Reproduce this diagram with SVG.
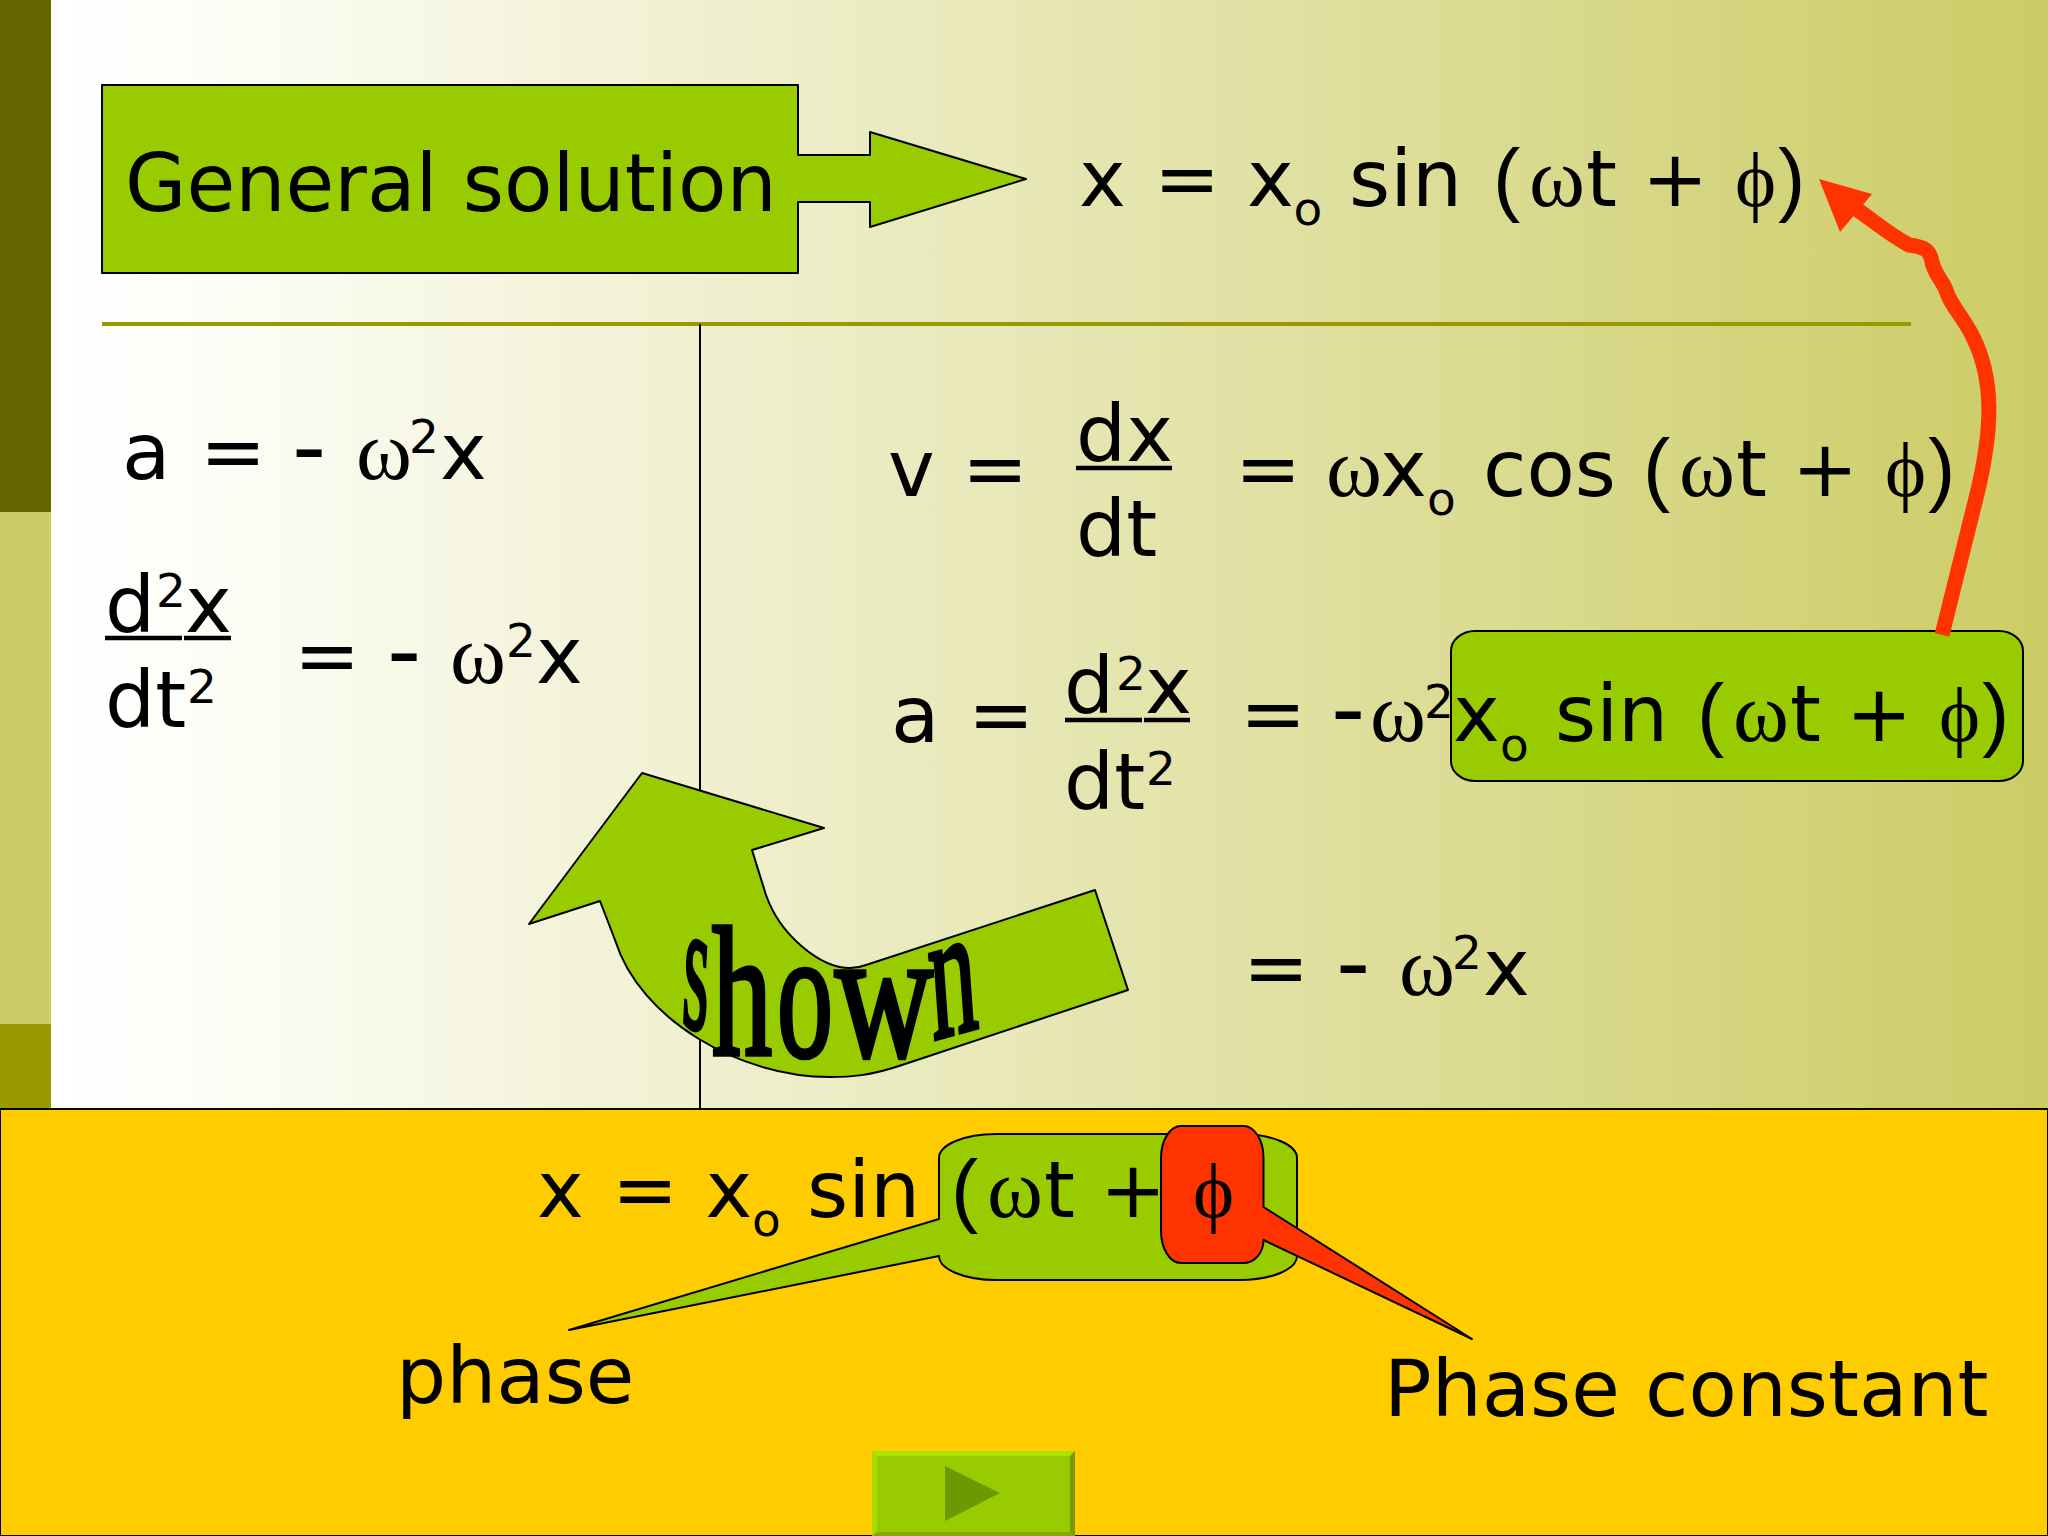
<svg xmlns="http://www.w3.org/2000/svg" width="2048" height="1536" viewBox="0 0 2048 1536">
<style>
.t{font-family:"DejaVu Sans",sans-serif;font-size:79px;fill:#000;white-space:pre}
.w{font-family:"Liberation Serif",serif;font-size:85px}
.f{font-family:"Liberation Serif",serif;font-size:78px}
.p{font-family:"Liberation Sans",sans-serif;font-size:82px}
.h{font-size:95px}
.s{font-size:47px}
.k{stroke:#000;stroke-width:2;stroke-linejoin:round}
.gr{fill:#99CC00}
.rd{fill:#FF3300}
.ul{stroke:#000;stroke-width:4.5}
</style>
<defs><linearGradient id="bg" gradientUnits="userSpaceOnUse" x1="52" y1="0" x2="2048" y2="0"><stop offset="0" stop-color="#fff"/><stop offset="0.06" stop-color="#FEFEFA"/><stop offset="1" stop-color="#CCCC66"/></linearGradient></defs>
<rect id="background" width="2048" height="1536" fill="url(#bg)"/>
<g id="sidebar">
<rect x="0" y="0" width="51" height="512" fill="#666600"/>
<rect x="0" y="512" width="51" height="512" fill="#CCCC66"/>
<rect x="0" y="1024" width="51" height="90" fill="#999900"/>
</g>
<g id="connectors">
<line x1="102" y1="324" x2="1911" y2="324" stroke="#999900" stroke-width="4"/>
<line x1="700" y1="324" x2="700" y2="1110" stroke="#000" stroke-width="2"/>
</g>
<g id="general-solution">
<path class="gr k" d="M102,85H798V155H870V132L1026,179L870,227V202H798V273H102Z"/>
<text class="t" x="125" y="211" style="font-size:79.3px">General solution</text>
</g>
<g id="formula-x"><text class="t" y="206"><tspan x="1079">x</tspan> <tspan x="1154">=</tspan> <tspan x="1247">x</tspan><tspan class="s" x="1293.5" y="225">o</tspan> <tspan x="1349" y="206">sin</tspan> <tspan class="p" x="1493">(</tspan><tspan class="w" x="1529">ω</tspan><tspan x="1586">t</tspan> <tspan x="1642">+</tspan> <tspan class="f" x="1735">ϕ</tspan><tspan class="p" x="1778">)</tspan></text></g>
<g id="formula-a"><text class="t" y="479"><tspan x="122">a</tspan> <tspan x="200">=</tspan> <tspan class="h" x="292">-</tspan> <tspan class="w" x="356">ω</tspan><tspan class="s" x="409" y="453">2</tspan><tspan x="440" y="479">x</tspan></text></g>
<g id="formula-d2x">
<text class="t" x="105" y="632">d<tspan class="s" x="156" y="607">2</tspan><tspan x="185" y="632">x</tspan></text>
<line class="ul" x1="105" y1="638" x2="182" y2="638"/><line class="ul" x1="184" y1="638" x2="231" y2="638"/>
<text class="t" x="105" y="727">dt<tspan class="s" x="187" y="703">2</tspan></text>
<text class="t" y="683"><tspan x="294">=</tspan> <tspan class="h" x="387">-</tspan> <tspan class="w" x="450">ω</tspan><tspan class="s" x="506" y="657">2</tspan><tspan x="536" y="683">x</tspan></text>
</g>
<g id="formula-v">
<text class="t" y="496"><tspan x="888">v</tspan> <tspan x="962">=</tspan></text>
<text class="t" x="1076" y="461">dx</text>
<line class="ul" x1="1076" y1="468" x2="1172" y2="468"/>
<text class="t" x="1076" y="556">dt</text>
<text class="t" y="496"><tspan x="1235">=</tspan> <tspan class="w" x="1326">ω</tspan><tspan x="1380">x</tspan><tspan class="s" x="1427" y="515">o</tspan> <tspan x="1483" y="496">cos</tspan> <tspan class="p" x="1643">(</tspan><tspan class="w" x="1679">ω</tspan><tspan x="1736">t</tspan> <tspan x="1792">+</tspan> <tspan class="f" x="1885">ϕ</tspan><tspan class="p" x="1928">)</tspan></text>
</g>
<g id="sin-box"><rect class="gr k" x="1451" y="631" width="572" height="150" rx="24" ry="20"/></g>
<g id="formula-a2">
<text class="t" y="742"><tspan x="891">a</tspan> <tspan x="968">=</tspan></text>
<text class="t" x="1064" y="713">d<tspan class="s" x="1116" y="690">2</tspan><tspan x="1145" y="713">x</tspan></text>
<line class="ul" x1="1065" y1="720" x2="1142" y2="720"/><line class="ul" x1="1144" y1="720" x2="1190" y2="720"/>
<text class="t" x="1064" y="809">dt<tspan class="s" x="1146" y="785">2</tspan></text>
<text class="t" y="741"><tspan x="1240">=</tspan> <tspan class="h" x="1331">-</tspan><tspan class="w" x="1370">ω</tspan><tspan class="s" x="1424" y="718">2</tspan><tspan x="1453" y="741">x</tspan><tspan class="s" x="1500" y="761">o</tspan> <tspan x="1555" y="741">sin</tspan> <tspan class="p" x="1697">(</tspan><tspan class="w" x="1733">ω</tspan><tspan x="1790">t</tspan> <tspan x="1846">+</tspan> <tspan class="f" x="1939">ϕ</tspan><tspan class="p" x="1982">)</tspan></text>
</g>
<g id="formula-a3"><text class="t" y="995"><tspan x="1243">=</tspan> <tspan class="h" x="1336">-</tspan> <tspan class="w" x="1399">ω</tspan><tspan class="s" x="1452" y="969">2</tspan><tspan x="1483" y="995">x</tspan></text></g>
<g id="red-arrow">
<path d="M1942,635L1978,490C1992,430 1995,380 1972,335C1962,315 1950,305 1946,290C1942,280 1935,275 1932,262C1930,250 1925,247 1909,245C1890,235 1875,222 1855,208" fill="none" stroke="#FF3300" stroke-width="15"/>
<polygon class="rd" points="1819,179 1872,194 1840,232"/>
</g>
<g id="shown-arrow">
<path class="gr k" d="M642,773L824,828L752,850L766,895C780,935 820,968 850,968Q858,968 866,965L1095,890L1128,990L902,1065C870,1076 850,1077 830,1077C740,1077 640,1020 615,940L600,901L529,924Z"/>
<text transform="scale(1,1.85)" font-family="Liberation Serif, serif" font-size="100" stroke="#000" stroke-width="2.5"><tspan x="681" y="553" textLength="26" lengthAdjust="spacingAndGlyphs" rotate="8">s</tspan><tspan x="712" y="570" textLength="60" lengthAdjust="spacingAndGlyphs">h</tspan><tspan x="777" y="571" textLength="56" lengthAdjust="spacingAndGlyphs">o</tspan><tspan x="835" y="571" textLength="98" lengthAdjust="spacingAndGlyphs">w</tspan><tspan x="933" y="562" textLength="47" lengthAdjust="spacingAndGlyphs" rotate="-8">n</tspan></text>
</g>
<g id="bottom-band"><rect x="0" y="1109" width="2048" height="427" fill="#FFCC00" stroke="#000" stroke-width="2"/></g>
<g id="phase-callout">
<path class="gr k" d="M996,1134H1240A57,24 0 0 1 1297,1158V1256A57,24 0 0 1 1240,1280H996A57,24 0 0 1 939,1256L569,1330L939,1219V1158A57,24 0 0 1 996,1134Z"/>
</g>
<g id="phi-callout">
<path class="rd k" d="M1181,1126H1243A20,32 0 0 1 1263.5,1158V1207L1472,1339L1263.5,1240A20,23 0 0 1 1243,1263H1181A20,32 0 0 1 1161,1231V1158A20,32 0 0 1 1181,1126Z"/>
</g>
<g id="formula-bottom"><text class="t" y="1217"><tspan x="537">x</tspan> <tspan x="612">=</tspan> <tspan x="705.5">x</tspan><tspan class="s" x="752" y="1236">o</tspan> <tspan x="807" y="1217">sin</tspan> <tspan class="p" x="951">(</tspan><tspan class="w" x="987">ω</tspan><tspan x="1044">t</tspan> <tspan x="1100">+</tspan> <tspan class="f" x="1193">ϕ</tspan></text></g>
<g id="labels">
<text class="t" x="396" y="1403">phase</text>
<text class="t" x="1384" y="1416">Phase constant</text>
</g>
<g id="next-button">
<rect class="gr" x="872" y="1451" width="203" height="85"/>
<polygon points="872,1451 1075,1451 1070,1456 877,1456" fill="#AEE000"/>
<polygon points="1075,1451 1075,1536 1070,1532 1070,1456" fill="#7A9900"/>
<polygon points="872,1451 877,1456 877,1532 872,1536" fill="#A8DC00"/>
<polygon points="872,1536 877,1532 1070,1532 1075,1536" fill="#86A800"/>
<polygon points="945,1466 1000,1493 945,1521" fill="#6B9900"/>
</g>
</svg>
